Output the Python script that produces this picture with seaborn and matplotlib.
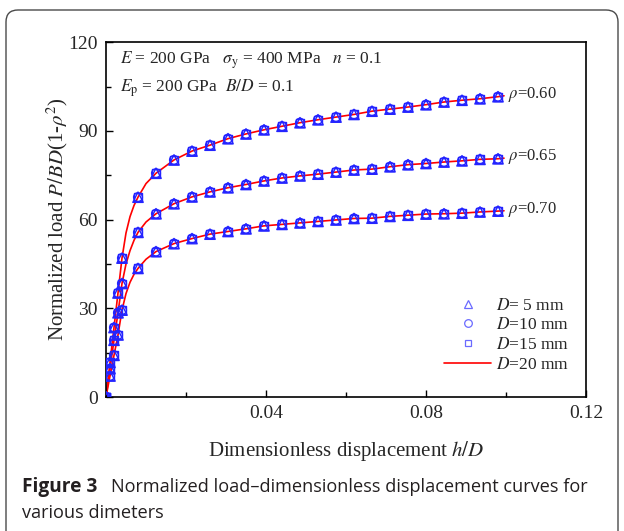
import matplotlib
matplotlib.use("Agg")
import matplotlib.pyplot as plt
import matplotlib.transforms as mtransforms
from matplotlib.patches import FancyBboxPatch
from matplotlib.lines import Line2D
import numpy as np
import pandas as pd
import seaborn as sns

# Marker positions (dimensionless displacement h/D)
h_markers = [0.0, 0.001, 0.002, 0.003, 0.004, 0.008, 0.0125, 0.017, 0.0215,
             0.026, 0.0305, 0.035, 0.0395, 0.044, 0.0485, 0.053, 0.0575,
             0.062, 0.0665, 0.071, 0.0755, 0.080, 0.0845, 0.089, 0.0935, 0.098]

# Normalized load for each rho (D = 5, 10, 15 mm coincide)
load_060 = [0.0, 11.7, 23.5, 35.2, 47.0, 67.6, 75.7, 80.2, 83.2, 85.2, 87.4,
            89.0, 90.4, 91.6, 92.8, 93.8, 94.7, 95.6, 96.7, 97.4, 98.1, 98.9,
            99.8, 100.4, 100.9, 101.6]
load_065 = [0.0, 9.6, 19.2, 28.5, 38.4, 55.7, 62.0, 65.4, 67.7, 69.4, 70.8,
            71.9, 73.1, 74.1, 74.8, 75.4, 76.1, 76.8, 77.1, 77.9, 78.6, 79.0,
            79.5, 79.9, 80.4, 80.6]
load_070 = [0.0, 7.1, 14.1, 21.0, 29.4, 43.5, 49.2, 51.9, 53.6, 55.1, 56.0,
            56.9, 57.9, 58.4, 58.9, 59.4, 59.9, 60.4, 60.5, 61.1, 61.5, 61.9,
            62.0, 62.2, 62.6, 62.9]

# D = 20 mm curve (finer sampling through the knee)
h_line = [0.0, 0.001, 0.002, 0.003, 0.004, 0.005, 0.006, 0.007, 0.008, 0.010,
          0.0125, 0.017, 0.0215, 0.026, 0.0305, 0.035, 0.0395, 0.044, 0.0485,
          0.053, 0.0575, 0.062, 0.0665, 0.071, 0.0755, 0.080, 0.0845, 0.089,
          0.0935, 0.098, 0.0995]
line_060 = [0.0, 11.7, 23.5, 35.2, 47.0, 55.5, 61.0, 64.8, 67.6, 72.2, 75.7,
            80.2, 83.2, 85.2, 87.4, 89.0, 90.4, 91.6, 92.8, 93.8, 94.7, 95.6,
            96.7, 97.4, 98.1, 98.9, 99.8, 100.4, 100.9, 101.6, 101.9]
line_065 = [0.0, 9.6, 19.2, 28.5, 38.4, 45.0, 49.5, 53.0, 55.7, 59.2, 62.0,
            65.4, 67.7, 69.4, 70.8, 71.9, 73.1, 74.1, 74.8, 75.4, 76.1, 76.8,
            77.1, 77.9, 78.6, 79.0, 79.5, 79.9, 80.4, 80.6, 80.8]
line_070 = [0.0, 7.1, 14.1, 21.0, 29.4, 35.0, 38.8, 41.5, 43.5, 46.6, 49.2,
            51.9, 53.6, 55.1, 56.0, 56.9, 57.9, 58.4, 58.9, 59.4, 59.9, 60.4,
            60.5, 61.1, 61.5, 61.9, 62.0, 62.2, 62.6, 62.9, 63.0]

rho_labels = ["0.60", "0.65", "0.70"]
diameters = ["5", "10", "15", "20"]

BLUE = "#2424ff"
RED = "#ff0000"

sns.set_theme(style="ticks")
plt.rcParams["font.family"] = ["Liberation Serif", "DejaVu Serif"]
plt.rcParams["mathtext.fontset"] = "stix"

fig = plt.figure(figsize=(6.24, 5.31), dpi=100)
fig.patch.set_facecolor("white")

# Card outline
card = FancyBboxPatch((6, -30), 612, 531 - 10 + 30,
                      boxstyle="round,pad=0,rounding_size=12",
                      transform=mtransforms.IdentityTransform(),
                      facecolor="none", edgecolor="#4a4a4a", linewidth=1.0)
fig.add_artist(card)

ax = fig.add_axes([106 / 624, 1 - 397 / 531, 480 / 624, (397 - 42.3) / 531])

# Long tables for seaborn
marker_rows = []
for rho, vals in zip(rho_labels, [load_060, load_065, load_070]):
    for h, p in zip(h_markers, vals):
        marker_rows.append({"rho": rho, "h": h, "P": p})
markers_df = pd.DataFrame(marker_rows)

line_rows = []
for rho, vals in zip(rho_labels, [line_060, line_065, line_070]):
    for h, p in zip(h_line, vals):
        line_rows.append({"rho": rho, "h": h, "P": p})
line_df = pd.DataFrame(line_rows)

sns.lineplot(data=line_df, x="h", y="P", units="rho", estimator=None,
             color=RED, linewidth=1.2, ax=ax, sort=False, zorder=2)

marker_styles = {"5": ("^", 56), "10": ("o", 40), "15": ("s", 32)}
for d in ["5", "10", "15"]:
    m, s = marker_styles[d]
    sns.scatterplot(data=markers_df, x="h", y="P", marker=m, s=s,
                    facecolor="none", edgecolor=BLUE, linewidth=1.0,
                    ax=ax, legend=False, zorder=3)

ax.set_xlim(0, 0.12)
ax.set_ylim(0, 120)
ax.set_xticks([0.04, 0.08, 0.12])
ax.set_xticklabels(["0.04", "0.08", "0.12"])
ax.set_xticks([0.0, 0.02, 0.06, 0.10], minor=True)
ax.set_yticks([0, 30, 60, 90, 120])
ax.set_yticklabels(["0", "30", "60", "90", "120"])
ax.set_yticks([15, 45, 75, 105], minor=True)
ax.tick_params(axis="both", which="both", direction="in", color="black",
               labelsize=14, width=1.0)
ax.tick_params(axis="both", which="major", length=5)
ax.tick_params(axis="both", which="minor", length=3.5)
ax.tick_params(axis="x", which="both", pad=6)
ax.tick_params(axis="y", which="both", pad=6)
for sp in ax.spines.values():
    sp.set_visible(True)
    sp.set_linewidth(1.2)
    sp.set_color("black")

ax.set_xlabel(r"Dimensionless displacement $h/D$", fontsize=15, labelpad=12)
ax.set_ylabel(r"Normalized load $P/BD$(1-$\rho^2$)", fontsize=15, labelpad=-1)

ax.text(0.029, 0.939,
        r"$E$ = 200 GPa   $\sigma_\mathrm{y}$ = 400 MPa   $n$ = 0.1",
        transform=ax.transAxes, fontsize=12.5, va="baseline", ha="left")
ax.text(0.029, 0.862, r"$E_\mathrm{p}$ = 200 GPa  $B/D$ = 0.1",
        transform=ax.transAxes, fontsize=12.5, va="baseline", ha="left")

for rho, vals in zip(rho_labels, [line_060, line_065, line_070]):
    ax.text(0.1005, vals[-1] + 0.6, r"$\rho$=" + rho, fontsize=12,
            va="center", ha="left")

handles = [
    Line2D([], [], linestyle="none", marker="^", markersize=6,
           markerfacecolor="none", markeredgecolor="#6a6aff", markeredgewidth=0.9),
    Line2D([], [], linestyle="none", marker="o", markersize=5.5,
           markerfacecolor="none", markeredgecolor="#6a6aff", markeredgewidth=0.9),
    Line2D([], [], linestyle="none", marker="s", markersize=5,
           markerfacecolor="none", markeredgecolor="#6a6aff", markeredgewidth=0.9),
    Line2D([], [], color=RED, linewidth=1.2),
]
labels = [r"$D$= 5 mm", r"$D$=10 mm", r"$D$=15 mm", r"$D$=20 mm"]
ax.legend(handles, labels, loc="upper left", bbox_to_anchor=(0.705, 0.28),
          frameon=False, fontsize=12.5, handlelength=2.7, handletextpad=0.25,
          labelspacing=0.2, borderpad=0, borderaxespad=0)

# Caption
cap_font = ["Open Sans", "DejaVu Sans"]
fig.text(22 / 624, 1 - 487 / 531, "Figure 3", fontsize=13.8, fontweight="bold",
         family=cap_font, va="center", ha="left", color="#231f20")
fig.text(111 / 624, 1 - 487 / 531,
         "Normalized load\u2013dimensionless displacement curves for",
         fontsize=13.1, family=cap_font, va="center", ha="left", color="#231f20")
fig.text(22 / 624, 1 - 513 / 531, "various dimeters", fontsize=13.1,
         family=cap_font, va="center", ha="left", color="#231f20")

fig.savefig("out.png", dpi=100, facecolor="white")
